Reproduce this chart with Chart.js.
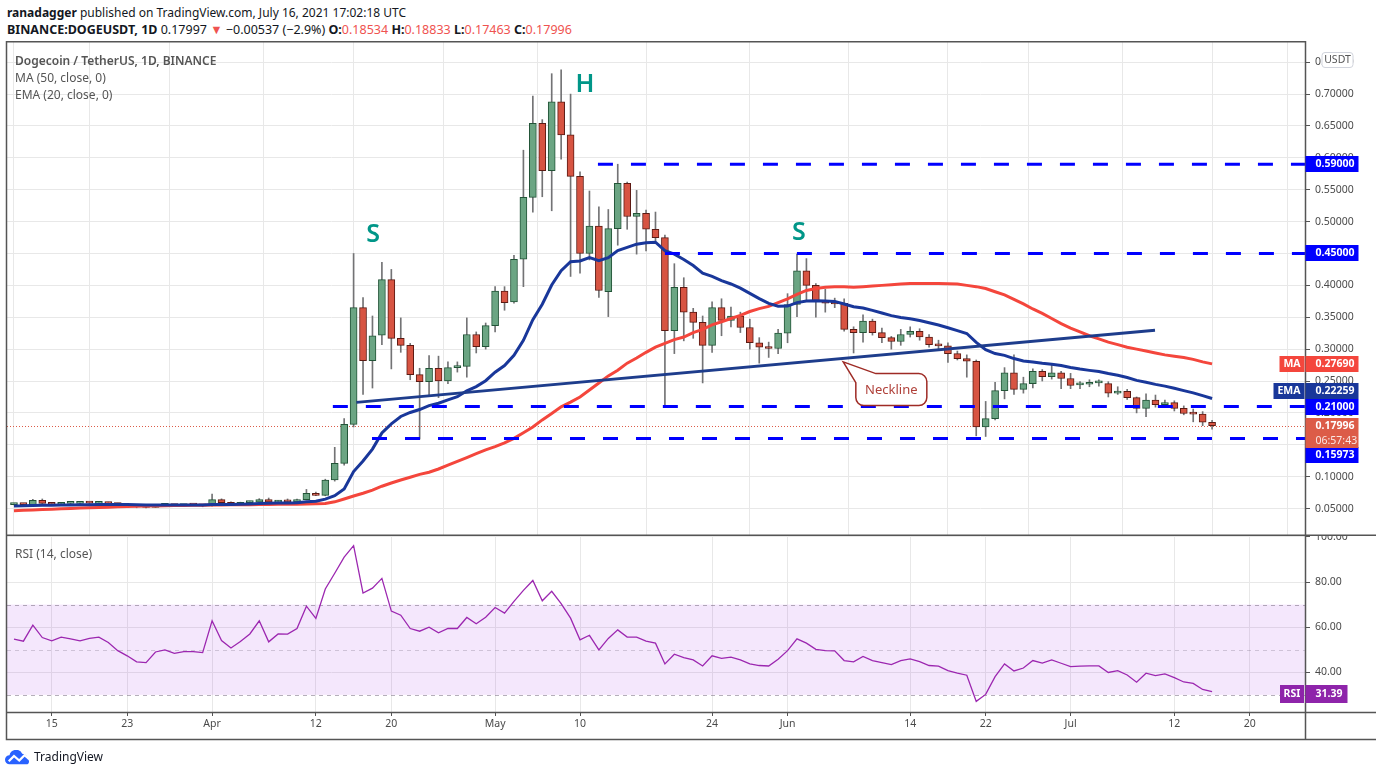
<!DOCTYPE html>
<html>
<head>
<meta charset="utf-8">
<title>DOGEUSDT 1D</title>
<script src="https://cdn.jsdelivr.net/npm/chart.js@4.4.1/dist/chart.umd.min.js"></script>
<style>
  html, body { margin: 0; padding: 0; background: #fff; }
  body { width: 1376px; height: 776px; position: relative; overflow: hidden; font-family: 'Noto Sans', sans-serif; color: #131722; }
  canvas { position: absolute; left: 0; }
  #priceChart { top: 41px; }
  #rsiChart { top: 536px; }
  .txt { position: absolute; white-space: nowrap; line-height: 16px; }
  #hdr1 { left: 7px; top: 5px; font-size: 12px; }
  #hdr2 { left: 7px; top: 22px; font-size: 12.5px; }
  .red { color: #ef5350; }
  .legend { left: 15px; font-size: 12px; color: #555; }
  #logo { left: 5px; top: 749px; font-size: 12px; color: #131722; display: flex; align-items: center; gap: 2px; }
</style>
</head>
<body>
<div class="txt" id="hdr1"><b>ranadagger</b> published on TradingView.com, July 16, 2021 17:02:18 UTC</div>
<div class="txt" id="hdr2"><b>BINANCE:DOGEUSDT, 1D</b> 0.17997 <span class="red">&#9660;</span> &minus;0.00537 (&minus;2.9%) <b>O:</b><span class="red">0.18534</span> <b>H:</b><span class="red">0.18833</span> <b>L:</b><span class="red">0.17463</span> <b>C:</b><span class="red">0.17996</span></div>

<canvas id="priceChart" width="1376" height="495"></canvas>
<canvas id="rsiChart" width="1376" height="240"></canvas>

<div class="txt legend" style="top:53px;font-weight:600">Dogecoin / TetherUS, 1D, BINANCE</div>
<div class="txt legend" style="top:70px">MA (50, close, 0)</div>
<div class="txt legend" style="top:87px">EMA (20, close, 0)</div>
<div class="txt legend" style="top:546px">RSI (14, close)</div>
<div class="txt" id="logo">
  <svg width="27" height="15" viewBox="0 0 36 20"><path d="M9 19H6a6 6 0 0 1 0-12 9 9 0 0 1 17-2 7 7 0 0 1 7 7 4 4 0 0 1 0 7z" fill="#2962ff"/><polyline points="5,15 12,8 19,14 26,7 32,12" stroke="#fff" stroke-width="3" fill="none"/></svg>
  <span>TradingView</span>
</div>

<script>
// daily candles, 2021-03-11 .. 2021-07-16
const startDate = '2021-03-11';

const opens = [
  0.0562, 0.0570, 0.0562, 0.0630, 0.0582, 0.0567, 0.0580, 0.0582, 0.0585, 0.0582, 0.0596, 0.0578, 0.0561, 0.0548, 0.0525, 0.0518, 0.0552, 0.0560, 0.0545, 0.0560, 0.0556,
  0.0542, 0.0640, 0.0592, 0.0565, 0.0592, 0.0600, 0.0640, 0.0600, 0.0620, 0.0605, 0.0640, 0.0738, 0.0707, 0.0947, 0.1208, 0.182, 0.365, 0.282, 0.322, 0.409, 0.317, 0.306, 0.260, 0.249, 0.270, 0.250, 0.271, 0.273, 0.323, 0.304,
  0.337, 0.391, 0.374, 0.441, 0.538, 0.654, 0.580, 0.688, 0.636, 0.571, 0.450, 0.493, 0.390, 0.489, 0.560, 0.508, 0.513, 0.488, 0.475, 0.329, 0.397, 0.358, 0.342, 0.306, 0.365, 0.345, 0.352, 0.334, 0.310, 0.303, 0.301,
  0.325, 0.370, 0.423, 0.400, 0.376, 0.373, 0.372, 0.331, 0.326, 0.344, 0.326, 0.318, 0.312, 0.323, 0.328, 0.319, 0.307, 0.305, 0.293, 0.285, 0.281, 0.178, 0.191, 0.235, 0.263, 0.237, 0.246, 0.265, 0.257, 0.263,
  0.254, 0.244, 0.245, 0.247, 0.246, 0.231, 0.234, 0.224, 0.207, 0.220, 0.213, 0.216, 0.207, 0.199, 0.198, 0.18534
];
const highs = [
  0.0580, 0.0578, 0.0645, 0.0650, 0.0590, 0.0588, 0.0590, 0.0592, 0.0594, 0.0603, 0.0600, 0.0583, 0.0566, 0.0560, 0.0532, 0.0556, 0.0565, 0.0566, 0.0565, 0.0566, 0.0562,
  0.0725, 0.0652, 0.0605, 0.0600, 0.0615, 0.0655, 0.0665, 0.0628, 0.0650, 0.0650, 0.0800, 0.0760, 0.0960, 0.146, 0.191, 0.450, 0.381, 0.352, 0.436, 0.425, 0.349, 0.309, 0.270, 0.290, 0.289, 0.280, 0.280, 0.349, 0.327, 0.341,
  0.398, 0.398, 0.447, 0.612, 0.697, 0.660, 0.732, 0.738, 0.700, 0.578, 0.548, 0.523, 0.519, 0.590, 0.562, 0.549, 0.518, 0.515, 0.479, 0.434, 0.412, 0.364, 0.352, 0.374, 0.379, 0.366, 0.358, 0.347, 0.318, 0.311, 0.331,
  0.387, 0.449, 0.442, 0.403, 0.394, 0.380, 0.379, 0.335, 0.354, 0.347, 0.333, 0.320, 0.331, 0.335, 0.332, 0.323, 0.314, 0.310, 0.297, 0.291, 0.283, 0.218, 0.248, 0.271, 0.291, 0.256, 0.269, 0.268, 0.277, 0.265,
  0.262, 0.249, 0.252, 0.252, 0.249, 0.241, 0.237, 0.225, 0.230, 0.228, 0.220, 0.219, 0.211, 0.206, 0.202, 0.18833
];
const lows = [
  0.0555, 0.0556, 0.0558, 0.0578, 0.0560, 0.0560, 0.0572, 0.0575, 0.0576, 0.0578, 0.0574, 0.0555, 0.0535, 0.0512, 0.0510, 0.0515, 0.0548, 0.0540, 0.0540, 0.0548, 0.0528,
  0.0538, 0.0585, 0.0560, 0.0560, 0.0585, 0.0595, 0.0590, 0.0595, 0.0600, 0.0600, 0.0635, 0.0700, 0.0700, 0.0930, 0.1180, 0.178, 0.229, 0.239, 0.307, 0.269, 0.295, 0.252, 0.159, 0.226, 0.224, 0.246, 0.264, 0.256, 0.294, 0.300,
  0.327, 0.361, 0.372, 0.398, 0.515, 0.539, 0.517, 0.598, 0.414, 0.419, 0.440, 0.381, 0.351, 0.463, 0.488, 0.449, 0.454, 0.470, 0.211, 0.293, 0.313, 0.317, 0.247, 0.295, 0.321, 0.335, 0.326, 0.300, 0.278, 0.287, 0.293,
  0.310, 0.351, 0.376, 0.350, 0.358, 0.365, 0.328, 0.294, 0.311, 0.322, 0.310, 0.300, 0.306, 0.319, 0.314, 0.303, 0.300, 0.279, 0.283, 0.256, 0.164, 0.163, 0.189, 0.222, 0.229, 0.231, 0.239, 0.250, 0.253, 0.238,
  0.238, 0.238, 0.241, 0.242, 0.225, 0.229, 0.221, 0.200, 0.194, 0.209, 0.209, 0.203, 0.197, 0.186, 0.180, 0.17463
];
const closes = [
  0.0570, 0.0562, 0.0630, 0.0582, 0.0567, 0.0580, 0.0582, 0.0585, 0.0584, 0.0596, 0.0578, 0.0561, 0.0540, 0.0525, 0.0518, 0.0552, 0.0560, 0.0545, 0.0560, 0.0553, 0.0542,
  0.0640, 0.0592, 0.0565, 0.0592, 0.0608, 0.0640, 0.0600, 0.0620, 0.0605, 0.0640, 0.0738, 0.0707, 0.0947, 0.1208, 0.182, 0.365, 0.282, 0.321, 0.409, 0.317, 0.306, 0.260, 0.249, 0.270, 0.250, 0.271, 0.273, 0.323, 0.304, 0.337,
  0.391, 0.373, 0.441, 0.538, 0.654, 0.580, 0.688, 0.636, 0.571, 0.450, 0.493, 0.392, 0.489, 0.560, 0.508, 0.513, 0.488, 0.475, 0.329, 0.397, 0.358, 0.342, 0.306, 0.365, 0.345, 0.352, 0.334, 0.310, 0.303, 0.301, 0.325,
  0.370, 0.423, 0.400, 0.376, 0.372, 0.371, 0.331, 0.326, 0.344, 0.326, 0.318, 0.312, 0.323, 0.328, 0.319, 0.307, 0.305, 0.293, 0.285, 0.281, 0.178, 0.191, 0.235, 0.263, 0.237, 0.246, 0.265, 0.257, 0.263, 0.254,
  0.243, 0.245, 0.247, 0.248, 0.231, 0.234, 0.224, 0.207, 0.220, 0.213, 0.216, 0.207, 0.199, 0.198, 0.18534, 0.17996
];

// indicator values
const ma50 = [
  0.0466, 0.0472, 0.0478, 0.0484, 0.0490, 0.0496, 0.0502, 0.0507, 0.0512, 0.0517, 0.0522, 0.0527, 0.0531, 0.0535, 0.0538, 0.0541, 0.0544, 0.0547, 0.0549, 0.0551, 0.0553,
  0.0555, 0.0557, 0.0558, 0.0559, 0.0561, 0.0563, 0.0564, 0.0566, 0.0567, 0.0569, 0.0572, 0.0575, 0.0580, 0.0605, 0.0650, 0.0696, 0.0740, 0.0790, 0.0850, 0.0900, 0.0947, 0.0990, 0.1036, 0.1070, 0.1120, 0.1180, 0.1240, 0.1300, 0.1360, 0.1420,
  0.1470, 0.1530, 0.1600, 0.1690, 0.1780, 0.1890, 0.1990, 0.2095, 0.2170, 0.2250, 0.2360, 0.2470, 0.2580, 0.2670, 0.2780, 0.2860, 0.2950, 0.3030, 0.3090, 0.3150, 0.3190, 0.3260, 0.3310, 0.3380, 0.3430, 0.3480, 0.3530, 0.3590, 0.3635, 0.3670, 0.3730,
  0.3790, 0.3860, 0.3920, 0.3950, 0.3970, 0.3980, 0.3980, 0.3970, 0.3980, 0.3990, 0.4000, 0.4010, 0.4020, 0.4030, 0.4030, 0.4030, 0.4030, 0.4025, 0.4020, 0.4000, 0.3980, 0.3950, 0.3900, 0.3850, 0.3780, 0.3710, 0.3630, 0.3560, 0.3480, 0.3400,
  0.3330, 0.3270, 0.3210, 0.3160, 0.3110, 0.3070, 0.3030, 0.3000, 0.2970, 0.2940, 0.2910, 0.2890, 0.2870, 0.2840, 0.2800, 0.2769
];
const ema20 = [
  0.0540, 0.0542, 0.0548, 0.0551, 0.0553, 0.0555, 0.0557, 0.0559, 0.0561, 0.0564, 0.0565, 0.0564, 0.0562, 0.0559, 0.0556, 0.0556, 0.0556, 0.0555, 0.0556, 0.0555, 0.0554,
  0.0562, 0.0565, 0.0565, 0.0568, 0.0572, 0.0579, 0.0581, 0.0585, 0.0587, 0.0592, 0.0606, 0.0616, 0.0648, 0.0701, 0.0808, 0.1079, 0.1245, 0.1432, 0.1685, 0.1827, 0.1944, 0.2007, 0.2053, 0.2115, 0.2152, 0.2205, 0.2254, 0.2347, 0.2413, 0.2505,
  0.2639, 0.2743, 0.2902, 0.3138, 0.3462, 0.3704, 0.4006, 0.4230, 0.4371, 0.4383, 0.4435, 0.4386, 0.4434, 0.4545, 0.4595, 0.4646, 0.4669, 0.4677, 0.4545, 0.4490, 0.4405, 0.4311, 0.4192, 0.4140, 0.4075, 0.4022, 0.3956, 0.3874, 0.3793, 0.3718, 0.3674,
  0.3676, 0.3730, 0.3756, 0.3757, 0.3754, 0.3749, 0.3708, 0.3665, 0.3644, 0.3608, 0.3567, 0.3525, 0.3497, 0.3476, 0.3449, 0.3413, 0.3379, 0.3336, 0.3290, 0.3245, 0.3105, 0.2992, 0.2931, 0.2902, 0.2852, 0.2815, 0.2799, 0.2778, 0.2764, 0.2743,
  0.2713, 0.2688, 0.2667, 0.2649, 0.2617, 0.2590, 0.2556, 0.2510, 0.2480, 0.2447, 0.2420, 0.2387, 0.2349, 0.2314, 0.2270, 0.22259
];
const rsi14 = [
  54.7, 53.8, 60.9, 55.4, 53.9, 55.6, 54.8, 53.9, 55.0, 55.6, 53.2, 49.6, 47.3, 44.6, 44.3, 49.0, 49.9, 48.4, 49.2, 49.2, 48.7,
  62.8, 54.1, 50.8, 53.6, 57.0, 62.8, 53.5, 57.0, 56.9, 59.4, 69.3, 63.9, 76.9, 83.9, 91.0, 96.1, 75.1, 77.3, 81.6, 67.1, 65.3, 59.4, 58.2, 60.0, 57.5, 59.4, 59.4, 64.3, 61.5, 64.4,
  68.7, 66.2, 71.4, 76.3, 80.7, 71.7, 75.9, 70.4, 64.0, 54.4, 56.4, 49.9, 55.0, 58.8, 55.6, 55.6, 53.8, 52.9, 43.7, 48.0, 46.5, 45.5, 42.8, 47.3, 46.2, 46.7, 45.5, 43.7, 43.0, 42.8, 45.8,
  49.6, 54.8, 52.9, 50.2, 49.6, 49.5, 45.2, 44.6, 47.0, 45.2, 44.3, 43.4, 45.2, 45.9, 44.7, 43.0, 42.7, 40.7, 39.6, 38.7, 27.1, 30.2, 38.1, 43.7, 40.6, 41.9, 45.2, 44.1, 45.5, 44.0,
  42.5, 42.7, 42.8, 42.8, 39.9, 40.7, 38.8, 35.6, 39.6, 38.5, 39.3, 37.6, 35.7, 35.1, 32.4, 31.39
];

// axes
const xTickDates = ['2021-03-15', '2021-03-23', '2021-04-01', '2021-04-12', '2021-04-20', '2021-05-01', '2021-05-10', '2021-05-24', '2021-06-01', '2021-06-14', '2021-06-22', '2021-07-01', '2021-07-12', '2021-07-20'];
const xTickLabels = ['15', '23', 'Apr', '12', '20', 'May', '10', '24', 'Jun', '14', '22', 'Jul', '12', '20'];
const priceTicks = [0.05, 0.10, 0.15, 0.20, 0.25, 0.30, 0.35, 0.40, 0.45, 0.50, 0.55, 0.60, 0.65, 0.70, 0.75];
const rsiTicks = [40, 60, 80, 100];

// drawings (day index from startDate, price)
const levelPrices = [0.59, 0.45, 0.21, 0.15973];
const levelStartDay = [61.9, 69.0, 33.8, 37.95];
const neckDays = [36.3, 120.95];
const neckPrices = [0.2165, 0.3298];
const markText = ['S', 'H', 'S'];
const markDays = [38.06, 60.53, 83.21];
const markPrices = [0.4787, 0.7143, 0.4818];
const calloutText = 'Neckline';
const calloutDay = 93.0, calloutPrice = 0.2365;
const calloutTipDay = 87.9, calloutTipPrice = 0.2801;
const countdown = '06:57:43';

const viewStart = -0.74, viewEnd = 136.85;
const priceMin = 0.0085, priceMax = 0.7817;
const rsiMin = 22.4, rsiMax = 100.4;
const rsiUpper = 70, rsiMid = 50, rsiLower = 30;

// styles
const upFill = '#6ba583', upLine = '#225437', downFill = '#d75442', downLine = '#5b1a13', wickColor = '#737375';
const maColor = '#f4463c', emaColor = '#19379a', neckColor = '#1e3d8c', levelColor = '#0000ff';
const lastColor = '#dc5c48', rsiColor = '#9c27b0', markColor = '#009688';
const gridColor = '#e8e8e8', axisColor = '#555555';
const axisWidth = 71;

Chart.defaults.font.family = "'Noto Sans', sans-serif";
Chart.defaults.font.size = 10.5;
Chart.defaults.color = '#4a4a4a';

const dayOf = s => Math.round((Date.parse(s) - Date.parse(startDate)) / 86400000);
const xTickVals = xTickDates.map(dayOf);
const idx = closes.map((_, i) => i);
const fixedTicks = values => scale => { scale.ticks = values.map(v => ({ value: v })); };
const fitRightAxis = s => { s.width = axisWidth; s.paddingTop = 0; s.paddingBottom = 0; };
const isUp = i => closes[i] >= opens[i];

function tag(ctx, left, width, top, height, bg, lines, align) {
  ctx.fillStyle = bg;
  ctx.fillRect(left, top, width, height);
  ctx.textBaseline = 'middle';
  const lh = height / lines.length;
  lines.forEach((ln, k) => {
    ctx.fillStyle = ln.color || '#ffffff';
    ctx.font = (ln.weight || 'bold') + ' 10.5px "Noto Sans", sans-serif';
    if (align === 'center') {
      ctx.textAlign = 'center';
      ctx.fillText(ln.text, left + width / 2, top + lh * (k + 0.5) + 0.5);
    } else {
      ctx.textAlign = 'left';
      ctx.fillText(ln.text, left + 10, top + lh * (k + 0.5) + 0.5);
    }
  });
}

const priceDecor = {
  id: 'priceDecor',
  beforeDatasetsDraw(chart) {
    const { ctx, chartArea: a, scales: { y } } = chart;
    ctx.save();
    ctx.strokeStyle = lastColor;
    ctx.lineWidth = 1;
    ctx.setLineDash([1, 2]);
    const py = Math.round(y.getPixelForValue(closes[closes.length - 1])) + 0.5;
    ctx.beginPath(); ctx.moveTo(a.left, py); ctx.lineTo(a.right, py); ctx.stroke();
    ctx.restore();
  },
  afterDatasetsDraw(chart) {
    const { ctx, chartArea: a, scales: { x, y } } = chart;
    ctx.save();
    ctx.beginPath(); ctx.rect(a.left, a.top, a.right - a.left, a.bottom - a.top); ctx.clip();
    // horizontal support / resistance levels
    ctx.strokeStyle = levelColor;
    ctx.lineWidth = 3;
    ctx.setLineDash([15, 18]);
    levelPrices.forEach((p, i) => {
      const yy = y.getPixelForValue(p);
      ctx.beginPath(); ctx.moveTo(x.getPixelForValue(levelStartDay[i]), yy); ctx.lineTo(a.right, yy); ctx.stroke();
    });
    ctx.setLineDash([]);
    // S / H / S
    ctx.fillStyle = markColor;
    ctx.font = '600 25px "Noto Sans", sans-serif';
    ctx.textAlign = 'center';
    ctx.textBaseline = 'middle';
    markText.forEach((t, i) => ctx.fillText(t, x.getPixelForValue(markDays[i]), y.getPixelForValue(markPrices[i])));
    // neckline callout
    const cx = x.getPixelForValue(calloutDay), cy = y.getPixelForValue(calloutPrice);
    const tx = x.getPixelForValue(calloutTipDay), ty = y.getPixelForValue(calloutTipPrice);
    const w = 71, h = 32, r = 8, l = cx - w / 2, t = cy - h / 2;
    ctx.beginPath();
    ctx.moveTo(l + 20, t);
    ctx.arcTo(l + w, t, l + w, t + h, r);
    ctx.arcTo(l + w, t + h, l, t + h, r);
    ctx.arcTo(l, t + h, l, t, r);
    ctx.lineTo(l, t + 9);
    ctx.lineTo(tx, ty);
    ctx.closePath();
    ctx.fillStyle = '#ffffff';
    ctx.fill();
    ctx.strokeStyle = '#9e2b25';
    ctx.lineWidth = 1.5;
    ctx.stroke();
    ctx.fillStyle = '#b0413a';
    ctx.font = '13px "Noto Sans", sans-serif';
    ctx.fillText(calloutText, cx, cy + 1);
    ctx.restore();
  },
  afterDraw(chart) {
    const { ctx, chartArea: a, scales: { y }, width, height } = chart;
    ctx.save();
    // frame
    ctx.strokeStyle = axisColor;
    ctx.lineWidth = 1.5;
    ctx.beginPath();
    ctx.moveTo(6.5, height); ctx.lineTo(6.5, 0.75); ctx.lineTo(a.right + 0.5, 0.75);
    ctx.moveTo(a.right + 0.5, 0); ctx.lineTo(a.right + 0.5, height);
    ctx.moveTo(6.5, height - 0.75); ctx.lineTo(width, height - 0.75);
    ctx.stroke();
    // right-hand price tags
    const R = a.right + 0.5;
    levelPrices.forEach((p, i) => {
      const nudge = i === 3 ? 16.5 : 0;
      tag(ctx, R, 53, Math.round(y.getPixelForValue(p) + nudge) - 8, 16, levelColor, [{ text: p.toFixed(5) }]);
    });
    const maY = Math.round(y.getPixelForValue(ma50[ma50.length - 1])) - 8;
    tag(ctx, R, 53, maY, 16, maColor, [{ text: ma50[ma50.length - 1].toFixed(5) }]);
    tag(ctx, R - 26, 25, maY, 16, maColor, [{ text: 'MA' }], 'center');
    const emaY = Math.round(y.getPixelForValue(ema20[ema20.length - 1]) - 7.5) - 8;
    tag(ctx, R, 53, emaY, 16, emaColor, [{ text: ema20[ema20.length - 1].toFixed(5) }]);
    tag(ctx, R - 32, 31, emaY, 16, emaColor, [{ text: 'EMA' }], 'center');
    const lastY = Math.round(y.getPixelForValue(closes[closes.length - 1])) - 8;
    tag(ctx, R, 53, lastY, 30, lastColor, [{ text: closes[closes.length - 1].toFixed(5) }, { text: countdown, weight: 'normal', color: 'rgba(255,255,255,0.85)' }]);
    // currency box
    ctx.fillStyle = '#ffffff';
    ctx.strokeStyle = '#d1d4dc';
    ctx.lineWidth = 1;
    ctx.beginPath();
    ctx.roundRect(R + 16.5, a.top + 10.5, 31, 15, 3);
    ctx.fill(); ctx.stroke();
    ctx.fillStyle = '#555';
    ctx.font = '10.5px "Noto Sans", sans-serif';
    ctx.textAlign = 'center';
    ctx.textBaseline = 'middle';
    ctx.fillText('USDT', R + 32, a.top + 18.5);
    ctx.restore();
  }
};

new Chart(document.getElementById('priceChart'), {
  type: 'bar',
  data: {
    datasets: [
      {
        type: 'line', label: 'Neckline', order: 0,
        data: neckDays.map((d, i) => ({ x: d, y: neckPrices[i] })),
        borderColor: neckColor, borderWidth: 3, pointRadius: 0
      },
      {
        type: 'line', label: 'EMA (20)', order: 1,
        data: idx.map(i => ({ x: i, y: ema20[i] })),
        borderColor: emaColor, borderWidth: 3, pointRadius: 0
      },
      {
        type: 'line', label: 'MA (50)', order: 2,
        data: idx.map(i => ({ x: i, y: ma50[i] })),
        borderColor: maColor, borderWidth: 3, pointRadius: 0
      },
      {
        label: 'Body', order: 3, grouped: false,
        data: idx.map(i => ({ x: i, y: [opens[i], closes[i]] })),
        backgroundColor: c => (isUp(c.dataIndex) ? upFill : downFill),
        borderColor: c => (isUp(c.dataIndex) ? upLine : downLine),
        borderWidth: 1, borderSkipped: false, barThickness: 7, minBarLength: 2
      },
      {
        label: 'Wick', order: 4, grouped: false,
        data: idx.map(i => ({ x: i, y: [lows[i], highs[i]] })),
        backgroundColor: wickColor, barThickness: 1
      }
    ]
  },
  options: {
    responsive: false,
    animation: false,
    events: [],
    layout: { padding: { left: 7, top: 1, right: 0, bottom: 1 } },
    plugins: { legend: { display: false }, tooltip: { enabled: false } },
    scales: {
      x: {
        type: 'linear', min: viewStart, max: viewEnd, offset: false,
        afterBuildTicks: fixedTicks(xTickVals),
        afterFit: s => { s.height = 0; s.paddingLeft = 0; s.paddingRight = 0; },
        ticks: { display: false },
        grid: { color: gridColor, drawTicks: false },
        border: { display: false }
      },
      y: {
        position: 'right', min: priceMin, max: priceMax,
        afterBuildTicks: fixedTicks(priceTicks),
        afterFit: fitRightAxis,
        ticks: { callback: v => v.toFixed(5), padding: 5 },
        grid: { color: gridColor, tickLength: 5, tickColor: axisColor },
        border: { display: false }
      }
    }
  },
  plugins: [priceDecor]
});

const rsiDecor = {
  id: 'rsiDecor',
  beforeDatasetsDraw(chart) {
    const { ctx, chartArea: a, scales: { y } } = chart;
    ctx.save();
    const top = y.getPixelForValue(rsiUpper), bot = y.getPixelForValue(rsiLower);
    ctx.fillStyle = 'rgba(163, 55, 232, 0.12)';
    ctx.fillRect(a.left, top, a.right - a.left, bot - top);
    ctx.lineWidth = 1;
    ctx.setLineDash([4, 4]);
    [[rsiUpper, 'rgba(120,110,130,0.55)'], [rsiMid, 'rgba(120,110,130,0.3)'], [rsiLower, 'rgba(120,110,130,0.55)']].forEach(([v, col]) => {
      const yy = Math.round(y.getPixelForValue(v)) + 0.5;
      ctx.strokeStyle = col;
      ctx.beginPath(); ctx.moveTo(a.left, yy); ctx.lineTo(a.right, yy); ctx.stroke();
    });
    ctx.restore();
  },
  afterDraw(chart) {
    const { ctx, chartArea: a, scales: { y }, width } = chart;
    ctx.save();
    ctx.strokeStyle = axisColor;
    ctx.lineWidth = 1.5;
    ctx.beginPath();
    ctx.moveTo(6.5, 0); ctx.lineTo(6.5, 203.5); ctx.lineTo(width, 203.5);
    ctx.moveTo(a.right + 0.5, 0); ctx.lineTo(a.right + 0.5, 203.5);
    ctx.moveTo(6.5, a.bottom + 0.5); ctx.lineTo(width, a.bottom + 0.5);
    ctx.stroke();
    const last = rsi14[rsi14.length - 1];
    const ty = Math.round(y.getPixelForValue(last)) - 7;
    tag(ctx, a.right + 0.5, 42, ty, 18, '#8e24aa', [{ text: last.toFixed(2) }]);
    tag(ctx, a.right - 25, 24, ty, 18, '#8e24aa', [{ text: 'RSI' }], 'center');
    ctx.restore();
  }
};

new Chart(document.getElementById('rsiChart'), {
  type: 'line',
  data: {
    datasets: [{
      label: 'RSI (14)',
      data: idx.map(i => ({ x: i, y: rsi14[i] })),
      borderColor: rsiColor, borderWidth: 1.3, pointRadius: 0
    }]
  },
  options: {
    responsive: false,
    animation: false,
    events: [],
    layout: { padding: { left: 7, top: 0, right: 0, bottom: 37 } },
    plugins: { legend: { display: false }, tooltip: { enabled: false } },
    scales: {
      x: {
        type: 'linear', min: viewStart, max: viewEnd, offset: false,
        afterBuildTicks: fixedTicks(xTickVals),
        afterFit: s => { s.height = 27; s.paddingLeft = 0; s.paddingRight = 0; },
        ticks: { autoSkip: false, maxRotation: 0, padding: 2, callback: v => xTickLabels[xTickVals.indexOf(v)] },
        grid: { color: gridColor, tickLength: 4, tickColor: axisColor },
        border: { display: false }
      },
      y: {
        position: 'right', min: rsiMin, max: rsiMax,
        afterBuildTicks: fixedTicks(rsiTicks),
        afterFit: fitRightAxis,
        ticks: { callback: v => v.toFixed(2), padding: 5 },
        grid: { color: gridColor, tickLength: 5, tickColor: axisColor },
        border: { display: false }
      }
    }
  },
  plugins: [rsiDecor]
});
</script>
</body>
</html>
